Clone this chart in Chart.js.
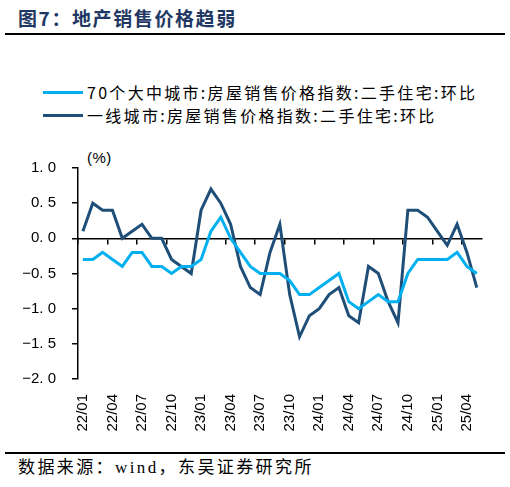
<!DOCTYPE html>
<html>
<head>
<meta charset="utf-8">
<script src="https://cdn.jsdelivr.net/npm/chart.js@4/dist/chart.umd.min.js"></script>
<style>
  body { margin: 0; width: 510px; height: 487px; background: #fff; position: relative; overflow: hidden;
         font-family: "Noto Sans CJK SC", sans-serif; color: #000; }
  .title { position: absolute; left: 18px; top: 5px; font-size: 19px; font-weight: bold; color: #1F3864;
           letter-spacing: 1.6px; line-height: 26px; }
  .rule { position: absolute; left: 5px; width: 500px; height: 2px; background: #000; }
  .legend { position: absolute; left: 43px; font-size: 16px; letter-spacing: 2.3px; line-height: 20px;
            display: flex; align-items: center; white-space: nowrap; }
  .legend i { display: inline-block; width: 40px; height: 3px; margin-right: 4px; }
  .unit { position: absolute; left: 87px; top: 148px; font-family: "Liberation Sans", sans-serif;
          font-size: 15px; line-height: 20px; letter-spacing: 0.5px; }
  .source { position: absolute; left: 18px; top: 457px; font-family: "Liberation Serif", "Noto Sans CJK SC", serif;
            font-size: 17px; letter-spacing: 2.4px; line-height: 22px; }
  #chart { position: absolute; left: 0; top: 141px; }
</style>
</head>
<body>
<div class="title">图7：地产销售价格趋弱</div>
<div class="rule" style="top:33px"></div>
<div class="legend" style="top:82px"><i style="background:#00B0F0"></i>70个大中城市:房屋销售价格指数:二手住宅:环比</div>
<div class="legend" style="top:105px"><i style="background:#1F4E79"></i>一线城市:房屋销售价格指数:二手住宅:环比</div>
<div class="unit">(%)</div>
<canvas id="chart" width="510" height="300"></canvas>
<div class="rule" style="top:452px"></div>
<div class="source">数据来源：wind，东吴证券研究所</div>

<script>
// 月份（22/01〜25/05）
const months = [
  '22/01','22/02','22/03','22/04','22/05','22/06','22/07','22/08','22/09','22/10','22/11','22/12',
  '23/01','23/02','23/03','23/04','23/05','23/06','23/07','23/08','23/09','23/10','23/11','23/12',
  '24/01','24/02','24/03','24/04','24/05','24/06','24/07','24/08','24/09','24/10','24/11','24/12',
  '25/01','25/02','25/03','25/04','25/05'
];

// 70个大中城市 二手住宅 环比
const cities70 = [
  -0.3, -0.3, -0.2, -0.3, -0.4, -0.2, -0.2, -0.4, -0.4, -0.5, -0.4, -0.4,
  -0.3,  0.1,  0.3,  0.0, -0.2, -0.4, -0.5, -0.5, -0.5, -0.6, -0.8, -0.8,
  -0.7, -0.6, -0.5, -0.9, -1.0, -0.9, -0.8, -0.9, -0.9, -0.5, -0.3, -0.3,
  -0.3, -0.3, -0.2, -0.4, -0.5
];

// 一线城市 二手住宅 环比
const tier1 = [
   0.1,  0.5,  0.4,  0.4,  0.0,  0.1,  0.2,  0.0,  0.0, -0.3, -0.4, -0.5,
   0.4,  0.7,  0.5,  0.2, -0.4, -0.7, -0.8, -0.2,  0.2, -0.8, -1.4, -1.1,
  -1.0, -0.8, -0.7, -1.1, -1.2, -0.4, -0.5, -0.9, -1.2,  0.4,  0.4,  0.3,
   0.1, -0.1,  0.2, -0.2, -0.7
];

// y軸の範囲と目盛り
const yMin = -2.0;
const yMax = 1.0;
const yStep = 0.5;
// 3か月ごとにラベルを表示
const labelEvery = 3;

const tickFont = { family: 'Liberation Sans', size: 15 };

new Chart(document.getElementById('chart').getContext('2d'), {
  type: 'line',
  data: {
    labels: months,
    datasets: [
      { label: '70个大中城市:房屋销售价格指数:二手住宅:环比', data: cities70, xAxisID: 'x', yAxisID: 'y',
        borderColor: '#00B0F0', borderWidth: 3, pointRadius: 0, tension: 0 },
      { label: '一线城市:房屋销售价格指数:二手住宅:环比', data: tier1, xAxisID: 'x', yAxisID: 'y',
        borderColor: '#1F4E79', borderWidth: 3, pointRadius: 0, tension: 0 }
    ]
  },
  options: {
    responsive: false,
    animation: false,
    layout: { padding: { top: 27, right: 18, bottom: 0, left: 0 } },
    plugins: { legend: { display: false }, tooltip: { enabled: false } },
    scales: {
      // 0の位置の横軸（目盛り線のみ）
      x: {
        type: 'category',
        position: { y: 0 },
        offset: true,
        grid: {
          offset: true, drawOnChartArea: false, drawTicks: true, tickLength: 5, lineWidth: 1.5,
          color: c => (c.index !== undefined && c.index % labelEvery === 0) ? '#000' : 'rgba(0,0,0,0)'
        },
        border: { color: '#000', width: 1.5 },
        ticks: { display: false, autoSkip: false }
      },
      // 下側のラベル用の軸
      x2: {
        type: 'category',
        position: 'bottom',
        offset: true,
        grid: { display: false, drawTicks: false },
        border: { display: false },
        ticks: {
          autoSkip: false, maxRotation: 90, minRotation: 90, padding: 15, color: '#000', font: tickFont,
          callback: (v, i) => i % labelEvery === 0 ? months[i] : ''
        },
        afterFit: s => { s.height = 62; }
      },
      y: {
        min: yMin,
        max: yMax,
        ticks: {
          stepSize: yStep, padding: 16, color: '#000', font: tickFont,
          callback: v => v.toFixed(1).replace('-', '\u2212').replace('.', '. ')
        },
        grid: { drawOnChartArea: false, drawTicks: true, tickLength: 6, color: '#000', lineWidth: 1.5 },
        border: { color: '#000', width: 1.5 },
        afterFit: s => { s.width = 78; }
      }
    }
  }
});
</script>
</body>
</html>
